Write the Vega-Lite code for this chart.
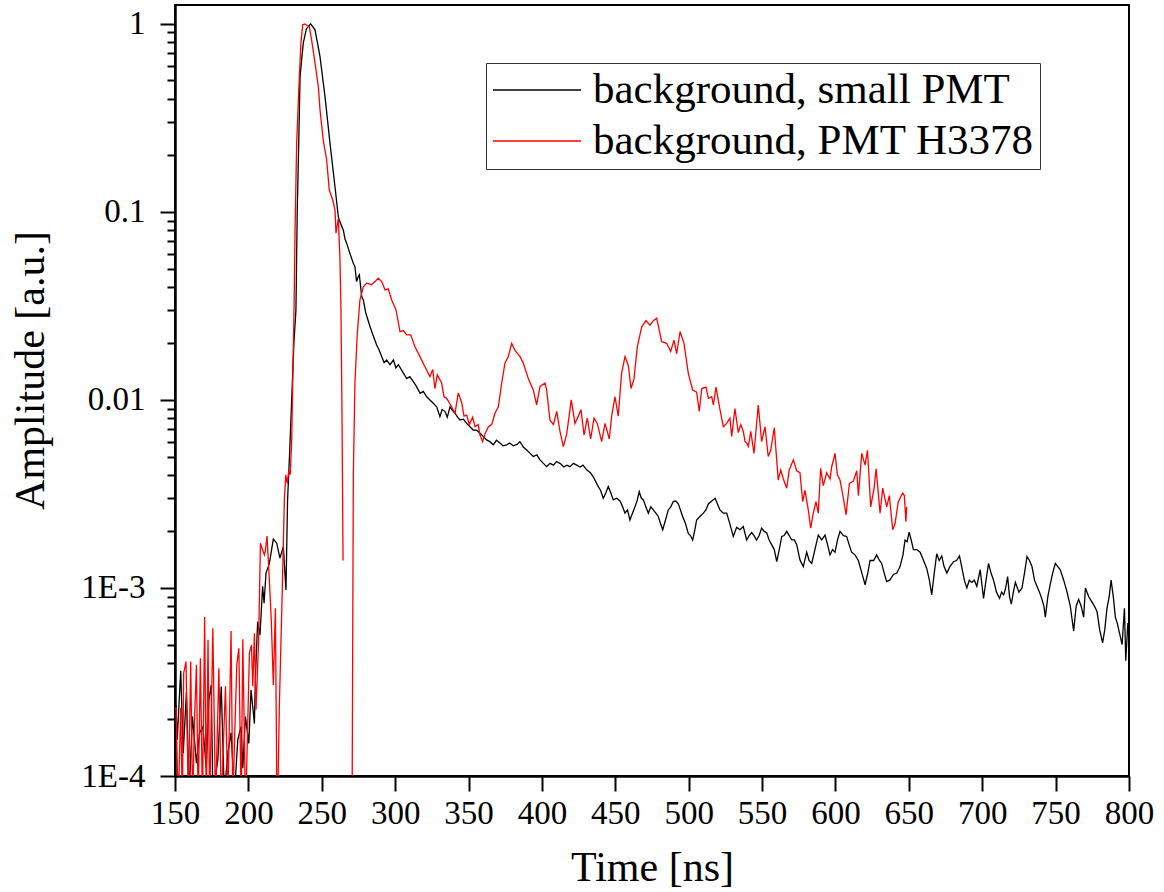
{
  "$schema": "https://vega.github.io/schema/vega-lite/v6.json",
  "width": 954,
  "height": 771,
  "autosize": "none",
  "padding": {"left": 175, "top": 5, "right": 35, "bottom": 116},
  "background": "white",
  "config": {
    "view": {"stroke": "black", "strokeWidth": 2},
    "font": "Liberation Serif",
    "axis": {"domainColor": "black", "tickColor": "black", "labelColor": "black", "titleColor": "black", "grid": false, "labelFont": "Liberation Serif", "titleFont": "Liberation Serif", "titleFontWeight": "normal", "labelFontSize": 33, "titleFontSize": 42, "tickWidth": 2, "domainWidth": 2.5},
    "legend": {"orient": "none", "legendX": 311, "legendY": 58, "symbolType": "stroke", "symbolSize": 7744, "symbolStrokeWidth": 1.3, "clipHeight": 42, "labelFontSize": 43, "labelFont": "Liberation Serif", "labelColor": "black", "labelLimit": 900, "labelOffset": 11, "rowPadding": 8, "padding": 6, "strokeColor": "#333333", "fillColor": "white"}
  },
  "datasets": {
    "black": [
      {"t":150,"v":0.00023},{"t":150.7,"v":0.000234},{"t":151.5,"v":0.000156},{"t":153.9,"v":0.000363},{"t":155.6,"v":0.000132},{"t":157.8,"v":0.00028},{"t":159.6,"v":0.00008},{"t":161.9,"v":0.000207},{"t":164.6,"v":0.000117},{"t":166.8,"v":0.00017},{"t":169,"v":0.000183},{"t":171.3,"v":0.00011},{"t":173.1,"v":0.000254},{"t":174.7,"v":0.000305},{"t":175.8,"v":0.00008},{"t":179.2,"v":0.000122},{"t":181.5,"v":0.000299},{"t":183.6,"v":0.00008},{"t":186,"v":0.000132},{"t":188.2,"v":0.00017},{"t":190.5,"v":0.00008},{"t":192.8,"v":0.000156},{"t":195,"v":0.000183},{"t":196.2,"v":0.00011},{"t":198,"v":0.000207},{"t":200.3,"v":0.000149},{"t":201.8,"v":0.000287},{"t":204.1,"v":0.00019},{"t":204.8,"v":0.000337},{"t":206.3,"v":0.000662},{"t":207.9,"v":0.000562},{"t":209.7,"v":0.00102},{"t":210.7,"v":0.00083},{"t":212,"v":0.0012},{"t":214.3,"v":0.00135},{"t":217,"v":0.00182},{"t":219.3,"v":0.00173},{"t":221.5,"v":0.00144},{"t":223.8,"v":0.00166},{"t":225.6,"v":0.000976},{"t":226.7,"v":0.00293},{"t":228,"v":0.005},{"t":229.5,"v":0.01},{"t":231,"v":0.02},{"t":232.4,"v":0.03},{"t":233.3,"v":0.1025},{"t":234.3,"v":0.232},{"t":235.2,"v":0.524},{"t":237.4,"v":0.79},{"t":239.5,"v":0.94},{"t":242.4,"v":1.0},{"t":245.4,"v":0.93},{"t":248.8,"v":0.67},{"t":252.2,"v":0.41},{"t":255.6,"v":0.232},{"t":259,"v":0.136},{"t":261.3,"v":0.094},{"t":262.5,"v":0.088},{"t":264.7,"v":0.08},{"t":265.8,"v":0.072},{"t":267,"v":0.068},{"t":269.2,"v":0.06},{"t":271.5,"v":0.0533},{"t":272.6,"v":0.0512},{"t":273.7,"v":0.0426},{"t":274.9,"v":0.0453},{"t":275.6,"v":0.0463},{"t":277.2,"v":0.0355},{"t":278.3,"v":0.034},{"t":280,"v":0.029},{"t":282.9,"v":0.0245},{"t":285,"v":0.022},{"t":287.4,"v":0.0196},{"t":289,"v":0.0185},{"t":290.8,"v":0.017},{"t":292.5,"v":0.0158},{"t":294.2,"v":0.0163},{"t":296.5,"v":0.0154},{"t":298.8,"v":0.0163},{"t":300.5,"v":0.0148},{"t":302.2,"v":0.0154},{"t":305.6,"v":0.0139},{"t":307.9,"v":0.013},{"t":310,"v":0.0133},{"t":312.4,"v":0.0125},{"t":314.5,"v":0.0118},{"t":317,"v":0.01085},{"t":319.2,"v":0.0111},{"t":321.5,"v":0.0104},{"t":323.7,"v":0.01},{"t":326,"v":0.0096},{"t":328.3,"v":0.0092},{"t":330.5,"v":0.00815},{"t":332,"v":0.0089},{"t":333.9,"v":0.0087},{"t":335.5,"v":0.0081},{"t":337.4,"v":0.0092},{"t":339,"v":0.0088},{"t":340.8,"v":0.0085},{"t":342.5,"v":0.0081},{"t":344.2,"v":0.00783},{"t":346.5,"v":0.0079},{"t":348.7,"v":0.0075},{"t":351,"v":0.0072},{"t":353.2,"v":0.00692},{"t":355.5,"v":0.0069},{"t":357.8,"v":0.00665},{"t":360,"v":0.0064},{"t":362.3,"v":0.00613},{"t":364.5,"v":0.006},{"t":366.9,"v":0.00577},{"t":369,"v":0.0061},{"t":371.4,"v":0.0059},{"t":373.5,"v":0.0057},{"t":376,"v":0.00577},{"t":378,"v":0.0059},{"t":380.5,"v":0.0057},{"t":383,"v":0.0058},{"t":385,"v":0.006},{"t":387.5,"v":0.0056},{"t":389.6,"v":0.00542},{"t":392,"v":0.0052},{"t":394.1,"v":0.005},{"t":396.5,"v":0.0051},{"t":398.7,"v":0.0048},{"t":401,"v":0.0046},{"t":403.2,"v":0.00442},{"t":405.5,"v":0.0046},{"t":407.8,"v":0.0045},{"t":410,"v":0.0047},{"t":412.3,"v":0.0046},{"t":415,"v":0.0044},{"t":417,"v":0.0045},{"t":419.1,"v":0.00442},{"t":421.5,"v":0.0046},{"t":423.7,"v":0.0045},{"t":426,"v":0.0044},{"t":428,"v":0.0045},{"t":430.5,"v":0.00425},{"t":433,"v":0.0041},{"t":435,"v":0.0039},{"t":436.5,"v":0.0037},{"t":438.4,"v":0.00346},{"t":440,"v":0.0033},{"t":441.8,"v":0.003},{"t":443.5,"v":0.0032},{"t":445.2,"v":0.00346},{"t":447,"v":0.0032},{"t":448.6,"v":0.00294},{"t":451,"v":0.003},{"t":453.2,"v":0.0029},{"t":455,"v":0.0027},{"t":456.6,"v":0.0025},{"t":458.3,"v":0.0026},{"t":460,"v":0.0023},{"t":461.7,"v":0.0025},{"t":463.4,"v":0.0027},{"t":464.8,"v":0.0029},{"t":466.3,"v":0.00325},{"t":467.8,"v":0.003},{"t":469.1,"v":0.00294},{"t":470.8,"v":0.0027},{"t":472.5,"v":0.0025},{"t":474.2,"v":0.0027},{"t":475.9,"v":0.0026},{"t":477.6,"v":0.0025},{"t":479.3,"v":0.0024},{"t":480.8,"v":0.0022},{"t":482.3,"v":0.00204},{"t":484.2,"v":0.0023},{"t":486.1,"v":0.0026},{"t":487.8,"v":0.0027},{"t":489.5,"v":0.00288},{"t":491.2,"v":0.0029},{"t":492.9,"v":0.0028},{"t":494.4,"v":0.0026},{"t":495.9,"v":0.0024},{"t":497.8,"v":0.0022},{"t":499.7,"v":0.00195},{"t":501.2,"v":0.0019},{"t":502.7,"v":0.0018},{"t":504,"v":0.002},{"t":505.4,"v":0.0023},{"t":507.7,"v":0.0024},{"t":510,"v":0.0025},{"t":511.7,"v":0.0026},{"t":513.4,"v":0.0028},{"t":515.7,"v":0.0029},{"t":518,"v":0.003},{"t":519.6,"v":0.0028},{"t":521.3,"v":0.0026},{"t":523.6,"v":0.0025},{"t":525.9,"v":0.0025},{"t":528,"v":0.0022},{"t":530.4,"v":0.00188},{"t":532.7,"v":0.0021},{"t":535,"v":0.00204},{"t":537.2,"v":0.00212},{"t":539.5,"v":0.0018},{"t":541.2,"v":0.0019},{"t":542.9,"v":0.00197},{"t":544.5,"v":0.0019},{"t":546.3,"v":0.0018},{"t":548,"v":0.0019},{"t":549.7,"v":0.00208},{"t":551.4,"v":0.002},{"t":553.1,"v":0.00197},{"t":554.8,"v":0.0018},{"t":556.5,"v":0.0017},{"t":558.3,"v":0.0016},{"t":560,"v":0.00138},{"t":561.7,"v":0.0016},{"t":563.4,"v":0.00188},{"t":565,"v":0.0019},{"t":566.8,"v":0.002},{"t":568.5,"v":0.0019},{"t":570.2,"v":0.0018},{"t":572,"v":0.0018},{"t":573.6,"v":0.0017},{"t":575.8,"v":0.00141},{"t":578.1,"v":0.0013},{"t":580.4,"v":0.00155},{"t":582,"v":0.0014},{"t":583.8,"v":0.00135},{"t":586,"v":0.0016},{"t":588.3,"v":0.00191},{"t":590.6,"v":0.0018},{"t":592.9,"v":0.00191},{"t":594.6,"v":0.0017},{"t":596.3,"v":0.0015},{"t":598,"v":0.0016},{"t":599.7,"v":0.00155},{"t":601.4,"v":0.0018},{"t":603.1,"v":0.002},{"t":605.4,"v":0.0019},{"t":607.6,"v":0.00188},{"t":609.3,"v":0.0017},{"t":611,"v":0.00155},{"t":613.3,"v":0.0015},{"t":615.6,"v":0.0014},{"t":618,"v":0.0012},{"t":620.2,"v":0.00104},{"t":622,"v":0.0012},{"t":623.6,"v":0.0014},{"t":626,"v":0.0014},{"t":628.1,"v":0.0015},{"t":630,"v":0.0014},{"t":631.5,"v":0.00135},{"t":633.2,"v":0.0012},{"t":634.9,"v":0.00108},{"t":637,"v":0.0011},{"t":639.5,"v":0.00118},{"t":641.8,"v":0.0012},{"t":644,"v":0.0013},{"t":646,"v":0.0015},{"t":647.4,"v":0.0018},{"t":648.8,"v":0.00176},{"t":650.2,"v":0.00198},{"t":651.6,"v":0.0018},{"t":653.1,"v":0.0016},{"t":655.4,"v":0.0016},{"t":657.7,"v":0.00155},{"t":660,"v":0.0014},{"t":662.2,"v":0.00127},{"t":664,"v":0.0011},{"t":665.6,"v":0.00092},{"t":667.3,"v":0.0012},{"t":669,"v":0.00152},{"t":670.7,"v":0.0014},{"t":672.4,"v":0.00148},{"t":674,"v":0.0013},{"t":675.9,"v":0.0012},{"t":678,"v":0.0013},{"t":680.4,"v":0.00138},{"t":682.5,"v":0.0014},{"t":684.5,"v":0.00148},{"t":686,"v":0.0013},{"t":687.8,"v":0.0011},{"t":689.5,"v":0.001},{"t":691.2,"v":0.0011},{"t":692.9,"v":0.00107},{"t":694.6,"v":0.0011},{"t":696.3,"v":0.00102},{"t":698.6,"v":0.00125},{"t":700.9,"v":0.00088},{"t":702.6,"v":0.0011},{"t":704.3,"v":0.00135},{"t":706,"v":0.0012},{"t":707.7,"v":0.0011},{"t":709.7,"v":0.00095},{"t":711.8,"v":0.00088},{"t":713.2,"v":0.00095},{"t":714.6,"v":0.00092},{"t":716,"v":0.001},{"t":717.3,"v":0.00115},{"t":718.6,"v":0.0009},{"t":719.8,"v":0.00082},{"t":721.2,"v":0.00095},{"t":722.6,"v":0.00107},{"t":725,"v":0.00095},{"t":727.1,"v":0.001},{"t":728.8,"v":0.0012},{"t":730.5,"v":0.00147},{"t":732.2,"v":0.0014},{"t":733.9,"v":0.0013},{"t":735.6,"v":0.0011},{"t":737.3,"v":0.00102},{"t":739,"v":0.00095},{"t":740.7,"v":0.00087},{"t":742,"v":0.0008},{"t":743,"v":0.0007},{"t":744.7,"v":0.0009},{"t":746.4,"v":0.00105},{"t":748,"v":0.0012},{"t":749.8,"v":0.00135},{"t":751.5,"v":0.0013},{"t":753.2,"v":0.00125},{"t":755.5,"v":0.0011},{"t":757.8,"v":0.00095},{"t":760,"v":0.0008},{"t":762.3,"v":0.00059},{"t":764,"v":0.0008},{"t":765.7,"v":0.00087},{"t":767.4,"v":0.0008},{"t":769.1,"v":0.0007},{"t":770.3,"v":0.001},{"t":772.5,"v":0.0009},{"t":774.8,"v":0.00084},{"t":776.5,"v":0.0008},{"t":778.2,"v":0.00075},{"t":780,"v":0.0006},{"t":782,"v":0.00051},{"t":783.5,"v":0.0006},{"t":785,"v":0.00078},{"t":786.5,"v":0.0009},{"t":787.8,"v":0.0011},{"t":789.3,"v":0.0009},{"t":790.7,"v":0.0007},{"t":792,"v":0.00065},{"t":793,"v":0.0006},{"t":795.3,"v":0.0005},{"t":796.9,"v":0.00078},{"t":797.8,"v":0.00041},{"t":799.2,"v":0.00065},{"t":800,"v":0.00058}
    ],
    "red": [
      {"t":150,"v":0.00023},{"t":150.7,"v":0.00023},{"t":152.2,"v":0.00007},{"t":153.9,"v":0.00023},{"t":155,"v":0.00007},{"t":155.9,"v":0.000352},{"t":157.5,"v":0.000406},{"t":159.1,"v":0.00007},{"t":160.7,"v":0.000406},{"t":162,"v":0.00007},{"t":163.3,"v":0.0002},{"t":164.6,"v":0.00039},{"t":165.8,"v":0.00007},{"t":167.3,"v":0.000423},{"t":168.7,"v":0.00007},{"t":170.2,"v":0.0007},{"t":171.3,"v":0.00007},{"t":172.5,"v":0.00053},{"t":173.6,"v":0.00007},{"t":175.8,"v":0.00061},{"t":177.6,"v":0.00007},{"t":179.9,"v":0.000374},{"t":181.5,"v":0.00007},{"t":183,"v":0.00015},{"t":184.4,"v":0.0003},{"t":186,"v":0.00007},{"t":188.2,"v":0.00059},{"t":189.4,"v":0.00007},{"t":190.8,"v":0.00018},{"t":192.1,"v":0.00039},{"t":193.5,"v":0.000478},{"t":195.1,"v":0.00007},{"t":196.2,"v":0.000533},{"t":198,"v":0.00007},{"t":198.9,"v":0.000115},{"t":200.7,"v":0.00045},{"t":202.1,"v":0.000498},{"t":203,"v":0.0003},{"t":204.1,"v":0.000574},{"t":205.2,"v":0.000225},{"t":207,"v":0.00053},{"t":208.2,"v":0.00173},{"t":209.7,"v":0.00159},{"t":210.9,"v":0.0015},{"t":211.6,"v":0.00159},{"t":212.7,"v":0.00189},{"t":214.3,"v":0.0011},{"t":215.6,"v":0.000676},{"t":217,"v":0.000305},{"t":218.4,"v":0.00078},{"t":219.6,"v":0.00005},{"t":221.1,"v":0.000234},{"t":222.9,"v":0.00086},{"t":224.5,"v":0.00294},{"t":225.5,"v":0.004},{"t":226.5,"v":0.0036},{"t":227.5,"v":0.0042},{"t":228.5,"v":0.004},{"t":229.5,"v":0.006},{"t":230.4,"v":0.015},{"t":231.1,"v":0.03},{"t":231.8,"v":0.08},{"t":232.9,"v":0.232},{"t":234.7,"v":0.524},{"t":235.8,"v":0.79},{"t":237,"v":0.99},{"t":238.5,"v":1.0},{"t":240,"v":0.98},{"t":241.5,"v":0.97},{"t":243.1,"v":0.82},{"t":245.4,"v":0.62},{"t":247.7,"v":0.46},{"t":248.8,"v":0.35},{"t":251,"v":0.24},{"t":253.3,"v":0.19},{"t":255.1,"v":0.131},{"t":257.4,"v":0.116},{"t":259,"v":0.1025},{"t":259.7,"v":0.077},{"t":261.3,"v":0.0925},{"t":262.4,"v":0.0556},{"t":263.1,"v":0.03},{"t":263.8,"v":0.008},{"t":264.5,"v":0.0014},{"t":265.2,"v":null},{"t":270,"v":null},{"t":270.6,"v":0.00005},{"t":271.5,"v":0.004},{"t":272.6,"v":0.0123},{"t":274.2,"v":0.0226},{"t":276,"v":0.034},{"t":278.3,"v":0.04},{"t":280.6,"v":0.0418},{"t":284,"v":0.041},{"t":286.3,"v":0.0426},{"t":288.5,"v":0.0444},{"t":290.8,"v":0.0426},{"t":293.1,"v":0.0385},{"t":295.3,"v":0.039},{"t":297.6,"v":0.034},{"t":300.6,"v":0.0301},{"t":303.3,"v":0.0231},{"t":305.6,"v":0.0234},{"t":307.9,"v":0.0222},{"t":310.6,"v":0.0222},{"t":313.5,"v":0.0192},{"t":316.9,"v":0.017},{"t":320.3,"v":0.015},{"t":323.7,"v":0.0133},{"t":325.6,"v":0.0145},{"t":327.1,"v":0.0115},{"t":328.7,"v":0.0136},{"t":331.7,"v":0.0123},{"t":333.3,"v":0.0104},{"t":335.1,"v":0.0102},{"t":337.8,"v":0.0094},{"t":340.8,"v":0.0085},{"t":343,"v":0.0109},{"t":345.3,"v":0.0097},{"t":346.9,"v":0.0082},{"t":348.7,"v":0.0083},{"t":350.5,"v":0.0074},{"t":352.8,"v":0.0081},{"t":354.4,"v":0.0072},{"t":356.6,"v":0.0074},{"t":357.8,"v":0.0065},{"t":359.6,"v":0.006},{"t":361.2,"v":0.0066},{"t":363.5,"v":0.0072},{"t":365.8,"v":0.0074},{"t":368,"v":0.0085},{"t":370.3,"v":0.0092},{"t":372.6,"v":0.0123},{"t":374.8,"v":0.0157},{"t":377.1,"v":0.017},{"t":379.4,"v":0.02},{"t":381.7,"v":0.0183},{"t":385.1,"v":0.017},{"t":387.3,"v":0.0157},{"t":390.7,"v":0.013},{"t":394.1,"v":0.0113},{"t":396.4,"v":0.0094},{"t":398.7,"v":0.0118},{"t":402.1,"v":0.0123},{"t":403.2,"v":0.0113},{"t":405.5,"v":0.0078},{"t":407.8,"v":0.0074},{"t":410.1,"v":0.0087},{"t":412.3,"v":0.0068},{"t":414.6,"v":0.00565},{"t":416.9,"v":0.0066},{"t":420,"v":0.01},{"t":422.5,"v":0.0075},{"t":424.8,"v":0.0082},{"t":426.6,"v":0.0089},{"t":428.7,"v":0.0065},{"t":430.9,"v":0.008},{"t":433.2,"v":0.0062},{"t":435.5,"v":0.008},{"t":437.7,"v":0.0075},{"t":440.7,"v":0.006},{"t":443,"v":0.0075},{"t":445.9,"v":0.0062},{"t":447.5,"v":0.0082},{"t":449.8,"v":0.0104},{"t":452,"v":0.0082},{"t":454.3,"v":0.0139},{"t":456.6,"v":0.017},{"t":458.9,"v":0.0152},{"t":460.7,"v":0.0115},{"t":462.7,"v":0.0129},{"t":465,"v":0.0192},{"t":468,"v":0.0245},{"t":470.9,"v":0.0264},{"t":473.6,"v":0.025},{"t":475.9,"v":0.0264},{"t":478.2,"v":0.0272},{"t":481.6,"v":0.0204},{"t":485,"v":0.02},{"t":487.7,"v":0.0181},{"t":490,"v":0.0208},{"t":491.8,"v":0.0176},{"t":494.1,"v":0.0231},{"t":496.8,"v":0.02},{"t":499.7,"v":0.0139},{"t":502.7,"v":0.0113},{"t":505.4,"v":0.011},{"t":507.2,"v":0.0087},{"t":508.9,"v":0.0115},{"t":511.8,"v":0.0117},{"t":513.4,"v":0.0102},{"t":515.7,"v":0.0104},{"t":516.8,"v":0.0094},{"t":518.6,"v":0.0117},{"t":521.3,"v":0.0089},{"t":523.6,"v":0.0072},{"t":525.9,"v":0.0075},{"t":528.1,"v":0.008},{"t":529.3,"v":0.0064},{"t":531.5,"v":0.009},{"t":533.8,"v":0.0067},{"t":535.5,"v":0.0074},{"t":537.2,"v":0.0068},{"t":538.4,"v":0.006},{"t":539.5,"v":0.0059},{"t":540.6,"v":0.00565},{"t":542.3,"v":0.0068},{"t":544.5,"v":0.0052},{"t":547.4,"v":0.0094},{"t":549.7,"v":0.006},{"t":552,"v":0.0072},{"t":554.2,"v":0.005},{"t":555.9,"v":0.0054},{"t":558.3,"v":0.0071},{"t":561,"v":0.00375},{"t":562.7,"v":0.00424},{"t":564.5,"v":0.0038},{"t":566.8,"v":0.00339},{"t":568.5,"v":0.00424},{"t":571.3,"v":0.0048},{"t":573.6,"v":0.0042},{"t":575.8,"v":0.0041},{"t":577.7,"v":0.00288},{"t":579.2,"v":0.0033},{"t":581.5,"v":0.0026},{"t":583.1,"v":0.00208},{"t":584.9,"v":0.0025},{"t":586.7,"v":0.00288},{"t":588.3,"v":0.0025},{"t":589.9,"v":0.00433},{"t":591.7,"v":0.0035},{"t":594,"v":0.0041},{"t":596.3,"v":0.0038},{"t":597.4,"v":0.0044},{"t":599.7,"v":0.0052},{"t":601.3,"v":0.004},{"t":603.1,"v":0.00375},{"t":605.4,"v":0.003},{"t":607.2,"v":0.00245},{"t":609.5,"v":0.0036},{"t":612.2,"v":0.0037},{"t":614.5,"v":0.0042},{"t":615.6,"v":0.0031},{"t":617.9,"v":0.0052},{"t":620.2,"v":0.0045},{"t":621.8,"v":0.0054},{"t":624,"v":0.0027},{"t":626.3,"v":0.0034},{"t":627.7,"v":0.0043},{"t":630.4,"v":0.0025},{"t":632.2,"v":0.0034},{"t":634.9,"v":0.0027},{"t":636.7,"v":0.0031},{"t":639,"v":0.00204},{"t":640.6,"v":0.0022},{"t":642.8,"v":0.00288},{"t":645.8,"v":0.0032},{"t":646.9,"v":0.0031},{"t":648,"v":0.00225},{"t":648.5,"v":0.0027}
    ]
  },
  "layer": [
    {
      "data": {"name": "black"},
      "mark": {"type": "line", "clip": true, "strokeWidth": 1.3, "invalid": "break-paths-filter-domains"},
      "encoding": {
        "x": {"field": "t", "type": "quantitative", "scale": {"domain": [150, 800], "nice": false, "zero": false},
              "axis": {"orient": "bottom", "values": [150,175,200,225,250,275,300,325,350,375,400,425,450,475,500,525,550,575,600,625,650,675,700,725,750,775,800],
                       "tickSize": {"condition": {"test": "datum.value % 50 == 0", "value": 15}, "value": 8},
                       "labelExpr": "datum.value % 50 == 0 ? datum.label : ''",
                       "labelPadding": 6, "labelFlush": false, "labelOverlap": false, "title": "Time [ns]", "titleY": 104, "titleBaseline": "alphabetic"}},
        "y": {"field": "v", "type": "quantitative", "scale": {"type": "log", "domain": [0.0001, 1.26], "nice": false},
              "axis": {"orient": "left", "values": [0.0001,0.0002,0.0003,0.0004,0.0005,0.0006,0.0007,0.0008,0.0009,0.001,0.002,0.003,0.004,0.005,0.006,0.007,0.008,0.009,0.01,0.02,0.03,0.04,0.05,0.06,0.07,0.08,0.09,0.1,0.2,0.3,0.4,0.5,0.6,0.7,0.8,0.9,1],
                       "tickSize": {"condition": {"test": "abs(log(datum.value)/LN10 - round(log(datum.value)/LN10)) < 0.001", "value": 15}, "value": 8},
                       "labelExpr": "abs(log(datum.value)/LN10 - round(log(datum.value)/LN10)) < 0.001 ? (datum.value < 0.005 ? '1E' + round(log(datum.value)/LN10) : datum.value + '') : ''",
                       "labelPadding": 15, "labelFlush": false, "labelOverlap": false, "title": "Amplitude [a.u.]", "titleX": -145, "titleY": 365, "titleAlign": "center", "titleBaseline": "middle", "titleAngle": -90}},
        "color": {"datum": "background, small PMT", "type": "nominal", "scale": {"domain": ["background, small PMT", "background, PMT H3378"], "range": ["black", "#ff0000"]}, "legend": {"title": null}}
      }
    },
    {
      "data": {"name": "red"},
      "mark": {"type": "line", "clip": true, "strokeWidth": 1.3, "invalid": "break-paths-filter-domains"},
      "encoding": {
        "x": {"field": "t", "type": "quantitative"},
        "y": {"field": "v", "type": "quantitative"},
        "color": {"datum": "background, PMT H3378", "type": "nominal"}
      }
    }
  ]
}
